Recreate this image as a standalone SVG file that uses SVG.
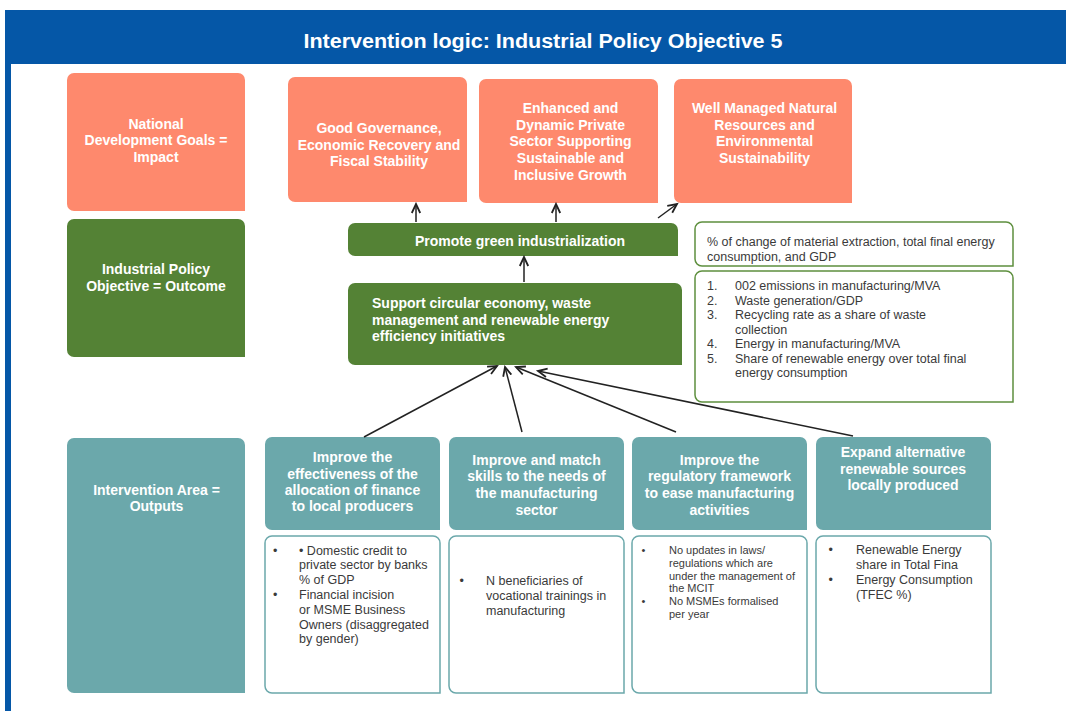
<svg xmlns="http://www.w3.org/2000/svg" width="1066" height="711" viewBox="0 0 1066 711">
<defs>
<style>
.salmon{fill:#fe896d}
.green{fill:#548235}
.teal{fill:#6ba8ab}
.ind{fill:#ffffff;stroke:#5e8f3e;stroke-width:1.5}
.out{fill:#ffffff;stroke:#6ba8ab;stroke-width:1.5}
.hd{font-family:"Liberation Sans",Arial,sans-serif;font-weight:bold;font-size:14px;fill:#ffffff;text-anchor:middle}
.hdl{font-family:"Liberation Sans",Arial,sans-serif;font-weight:bold;font-size:14px;fill:#ffffff}
.tx{font-family:"Liberation Sans",Arial,sans-serif;font-size:12.5px;fill:#3a3a3a}
.sm{font-family:"Liberation Sans",Arial,sans-serif;font-size:11px;fill:#3a3a3a}
.conn{stroke:#222222;stroke-width:1.5;fill:none;marker-end:url(#arr)}
</style>
<marker id="arr" markerUnits="userSpaceOnUse" markerWidth="12" markerHeight="12" refX="8" refY="4" orient="auto" viewBox="0 0 10 8">
<path d="M0.5,0.5 L8,4 L0.5,7.5" fill="none" stroke="#222222" stroke-width="1.5"/>
</marker>
</defs>
<rect width="1066" height="711" fill="#ffffff"/>
<g id="frame">
<rect x="5" y="10" width="1061" height="54" fill="#0557a7"/>
<rect x="5" y="10" width="6" height="701" fill="#0557a7"/>
<text x="543" y="48" font-family="Liberation Sans,Arial,sans-serif" font-weight="bold" font-size="20" fill="#ffffff" text-anchor="middle" textLength="479" lengthAdjust="spacingAndGlyphs">Intervention logic: Industrial Policy Objective 5</text>
</g>
<g id="impact-label">
<path class="salmon" d="M74,73 H238 A7,7 0 0 1 245,80 V211 H74 A7,7 0 0 1 67,204 V80 A7,7 0 0 1 74,73 Z"/>
<text class="hd"><tspan x="156" y="128.5">National</tspan><tspan x="156" y="145">Development Goals =</tspan><tspan x="156" y="162">Impact</tspan></text>
</g>
<g id="outcome-label">
<path class="green" d="M74,219 H238 A7,7 0 0 1 245,226 V357 H74 A7,7 0 0 1 67,350 V226 A7,7 0 0 1 74,219 Z"/>
<text class="hd"><tspan x="156" y="273.5">Industrial Policy</tspan><tspan x="156" y="291">Objective = Outcome</tspan></text>
</g>
<g id="outputs-label">
<path class="teal" d="M74,438 H238 A7,7 0 0 1 245,445 V693 H74 A7,7 0 0 1 67,686 V445 A7,7 0 0 1 74,438 Z"/>
<text class="hd"><tspan x="156.5" y="494.5">Intervention Area =</tspan><tspan x="156.5" y="510.5">Outputs</tspan></text>
</g>
<g id="goal-governance">
<path class="salmon" d="M295,77 H460 A7,7 0 0 1 467,84 V202 H295 A7,7 0 0 1 288,195 V84 A7,7 0 0 1 295,77 Z"/>
<text class="hd"><tspan x="379" y="132.5">Good Governance,</tspan><tspan x="379" y="149.5">Economic Recovery and</tspan><tspan x="379" y="165.5">Fiscal Stability</tspan></text>
</g>
<g id="goal-private-sector">
<path class="salmon" d="M486,79 H651 A7,7 0 0 1 658,86 V203 H486 A7,7 0 0 1 479,196 V86 A7,7 0 0 1 486,79 Z"/>
<text class="hd"><tspan x="570.5" y="112.5">Enhanced and</tspan><tspan x="570.5" y="129.5">Dynamic Private</tspan><tspan x="570.5" y="146">Sector Supporting</tspan><tspan x="570.5" y="162.5">Sustainable and</tspan><tspan x="570.5" y="179.5">Inclusive Growth</tspan></text>
</g>
<g id="goal-natural-resources">
<path class="salmon" d="M681,79 H845 A7,7 0 0 1 852,86 V203 H681 A7,7 0 0 1 674,196 V86 A7,7 0 0 1 681,79 Z"/>
<text class="hd"><tspan x="764.5" y="112.5">Well Managed Natural</tspan><tspan x="764.5" y="129.5">Resources and</tspan><tspan x="764.5" y="146">Environmental</tspan><tspan x="764.5" y="162.5">Sustainability</tspan></text>
</g>
<g id="objective-green">
<path class="green" d="M355,223 H671 A7,7 0 0 1 678,230 V256 H355 A7,7 0 0 1 348,249 V230 A7,7 0 0 1 355,223 Z"/>
<text class="hd" x="520" y="246">Promote green industrialization</text>
</g>
<g id="objective-circular">
<path class="green" d="M355,283 H675 A7,7 0 0 1 682,290 V365 H355 A7,7 0 0 1 348,358 V290 A7,7 0 0 1 355,283 Z"/>
<text class="hdl"><tspan x="372" y="307.5">Support circular economy, waste</tspan><tspan x="372" y="324.5">management and renewable energy</tspan><tspan x="372" y="341">efficiency initiatives</tspan></text>
</g>
<g id="indicator-outcome">
<path class="ind" d="M702,222 H1006 A7,7 0 0 1 1013,229 V266 H702 A7,7 0 0 1 695,259 V229 A7,7 0 0 1 702,222 Z"/>
<text class="tx"><tspan x="707" y="246">% of change of material extraction, total final energy</tspan><tspan x="707" y="261">consumption, and GDP</tspan></text>
</g>
<g id="indicator-list">
<path class="ind" d="M702,271 H1006 A7,7 0 0 1 1013,278 V402 H702 A7,7 0 0 1 695,395 V278 A7,7 0 0 1 702,271 Z"/>
<text class="tx">
<tspan x="707" y="290">1.</tspan><tspan x="735" y="290">002 emissions in manufacturing/MVA</tspan>
<tspan x="707" y="304.5">2.</tspan><tspan x="735" y="304.5">Waste generation/GDP</tspan>
<tspan x="707" y="319">3.</tspan><tspan x="735" y="319">Recycling rate as a share of waste</tspan>
<tspan x="735" y="333.5">collection</tspan>
<tspan x="707" y="348">4.</tspan><tspan x="735" y="348">Energy in manufacturing/MVA</tspan>
<tspan x="707" y="362.5">5.</tspan><tspan x="735" y="362.5">Share of renewable energy over total final</tspan>
<tspan x="735" y="377">energy consumption</tspan>
</text>
</g>
<g id="area-finance">
<path class="teal" d="M272,437 H433 A7,7 0 0 1 440,444 V530 H272 A7,7 0 0 1 265,523 V444 A7,7 0 0 1 272,437 Z"/>
<text class="hd"><tspan x="352.5" y="462">Improve the</tspan><tspan x="352.5" y="478.5">effectiveness of the</tspan><tspan x="352.5" y="494.5">allocation of finance</tspan><tspan x="352.5" y="511">to local producers</tspan></text>
<path class="out" d="M272,536 H433 A7,7 0 0 1 440,543 V693 H272 A7,7 0 0 1 265,686 V543 A7,7 0 0 1 272,536 Z"/>
<text class="tx">
<tspan x="273" y="554.5">•</tspan><tspan x="299" y="554.5">• Domestic credit to</tspan>
<tspan x="299" y="569.3">private sector by banks</tspan>
<tspan x="299" y="584.1">% of GDP</tspan>
<tspan x="273" y="598.9">•</tspan><tspan x="299" y="598.9">Financial incision</tspan>
<tspan x="299" y="613.7">or MSME Business</tspan>
<tspan x="299" y="628.5">Owners (disaggregated</tspan>
<tspan x="299" y="643.3">by gender)</tspan>
</text>
</g>
<g id="area-skills">
<path class="teal" d="M456,437 H617 A7,7 0 0 1 624,444 V530 H456 A7,7 0 0 1 449,523 V444 A7,7 0 0 1 456,437 Z"/>
<text class="hd"><tspan x="536.5" y="464.5">Improve and match</tspan><tspan x="536.5" y="481">skills to the needs of</tspan><tspan x="536.5" y="498">the manufacturing</tspan><tspan x="536.5" y="514.5">sector</tspan></text>
<path class="out" d="M456,536 H617 A7,7 0 0 1 624,543 V693 H456 A7,7 0 0 1 449,686 V543 A7,7 0 0 1 456,536 Z"/>
<text class="tx">
<tspan x="459.5" y="585">•</tspan><tspan x="486" y="585">N beneficiaries of</tspan>
<tspan x="486" y="600">vocational trainings in</tspan>
<tspan x="486" y="614.5">manufacturing</tspan>
</text>
</g>
<g id="area-regulatory">
<path class="teal" d="M639,437 H800 A7,7 0 0 1 807,444 V530 H639 A7,7 0 0 1 632,523 V444 A7,7 0 0 1 639,437 Z"/>
<text class="hd"><tspan x="719.5" y="464.5">Improve the</tspan><tspan x="719.5" y="481">regulatory framework</tspan><tspan x="719.5" y="498">to ease manufacturing</tspan><tspan x="719.5" y="514.5">activities</tspan></text>
<path class="out" d="M639,536 H800 A7,7 0 0 1 807,543 V693 H639 A7,7 0 0 1 632,686 V543 A7,7 0 0 1 639,536 Z"/>
<text class="sm">
<tspan x="641.5" y="554">•</tspan><tspan x="669" y="554">No updates in laws/</tspan>
<tspan x="669" y="566.8">regulations which are</tspan>
<tspan x="669" y="579.6">under the management of</tspan>
<tspan x="669" y="592.4">the MCIT</tspan>
<tspan x="641.5" y="605.4">•</tspan><tspan x="669" y="605.4">No MSMEs formalised</tspan>
<tspan x="669" y="618.2">per year</tspan>
</text>
</g>
<g id="area-renewable">
<path class="teal" d="M823,437 H984 A7,7 0 0 1 991,444 V530 H823 A7,7 0 0 1 816,523 V444 A7,7 0 0 1 823,437 Z"/>
<text class="hd"><tspan x="903" y="457">Expand alternative</tspan><tspan x="903" y="473.5">renewable sources</tspan><tspan x="903" y="490">locally produced</tspan></text>
<path class="out" d="M823,536 H984 A7,7 0 0 1 991,543 V693 H823 A7,7 0 0 1 816,686 V543 A7,7 0 0 1 823,536 Z"/>
<text class="tx">
<tspan x="828.5" y="553.8">•</tspan><tspan x="856" y="553.8">Renewable Energy</tspan>
<tspan x="856" y="568.7">share in Total Fina</tspan>
<tspan x="828.5" y="583.6">•</tspan><tspan x="856" y="583.6">Energy Consumption</tspan>
<tspan x="856" y="598.5">(TFEC %)</tspan>
</text>
</g>
<g id="connectors">
<line class="conn" x1="416" y1="222" x2="416" y2="204"/>
<line class="conn" x1="556" y1="222" x2="556" y2="204"/>
<line class="conn" x1="658" y1="218" x2="677" y2="204"/>
<line class="conn" x1="524" y1="282" x2="524" y2="257"/>
<line class="conn" x1="364" y1="437" x2="497" y2="366"/>
<line class="conn" x1="522" y1="432" x2="505" y2="367"/>
<line class="conn" x1="676" y1="432" x2="516" y2="367"/>
<line class="conn" x1="853" y1="436" x2="538" y2="371"/>
</g>
</svg>
